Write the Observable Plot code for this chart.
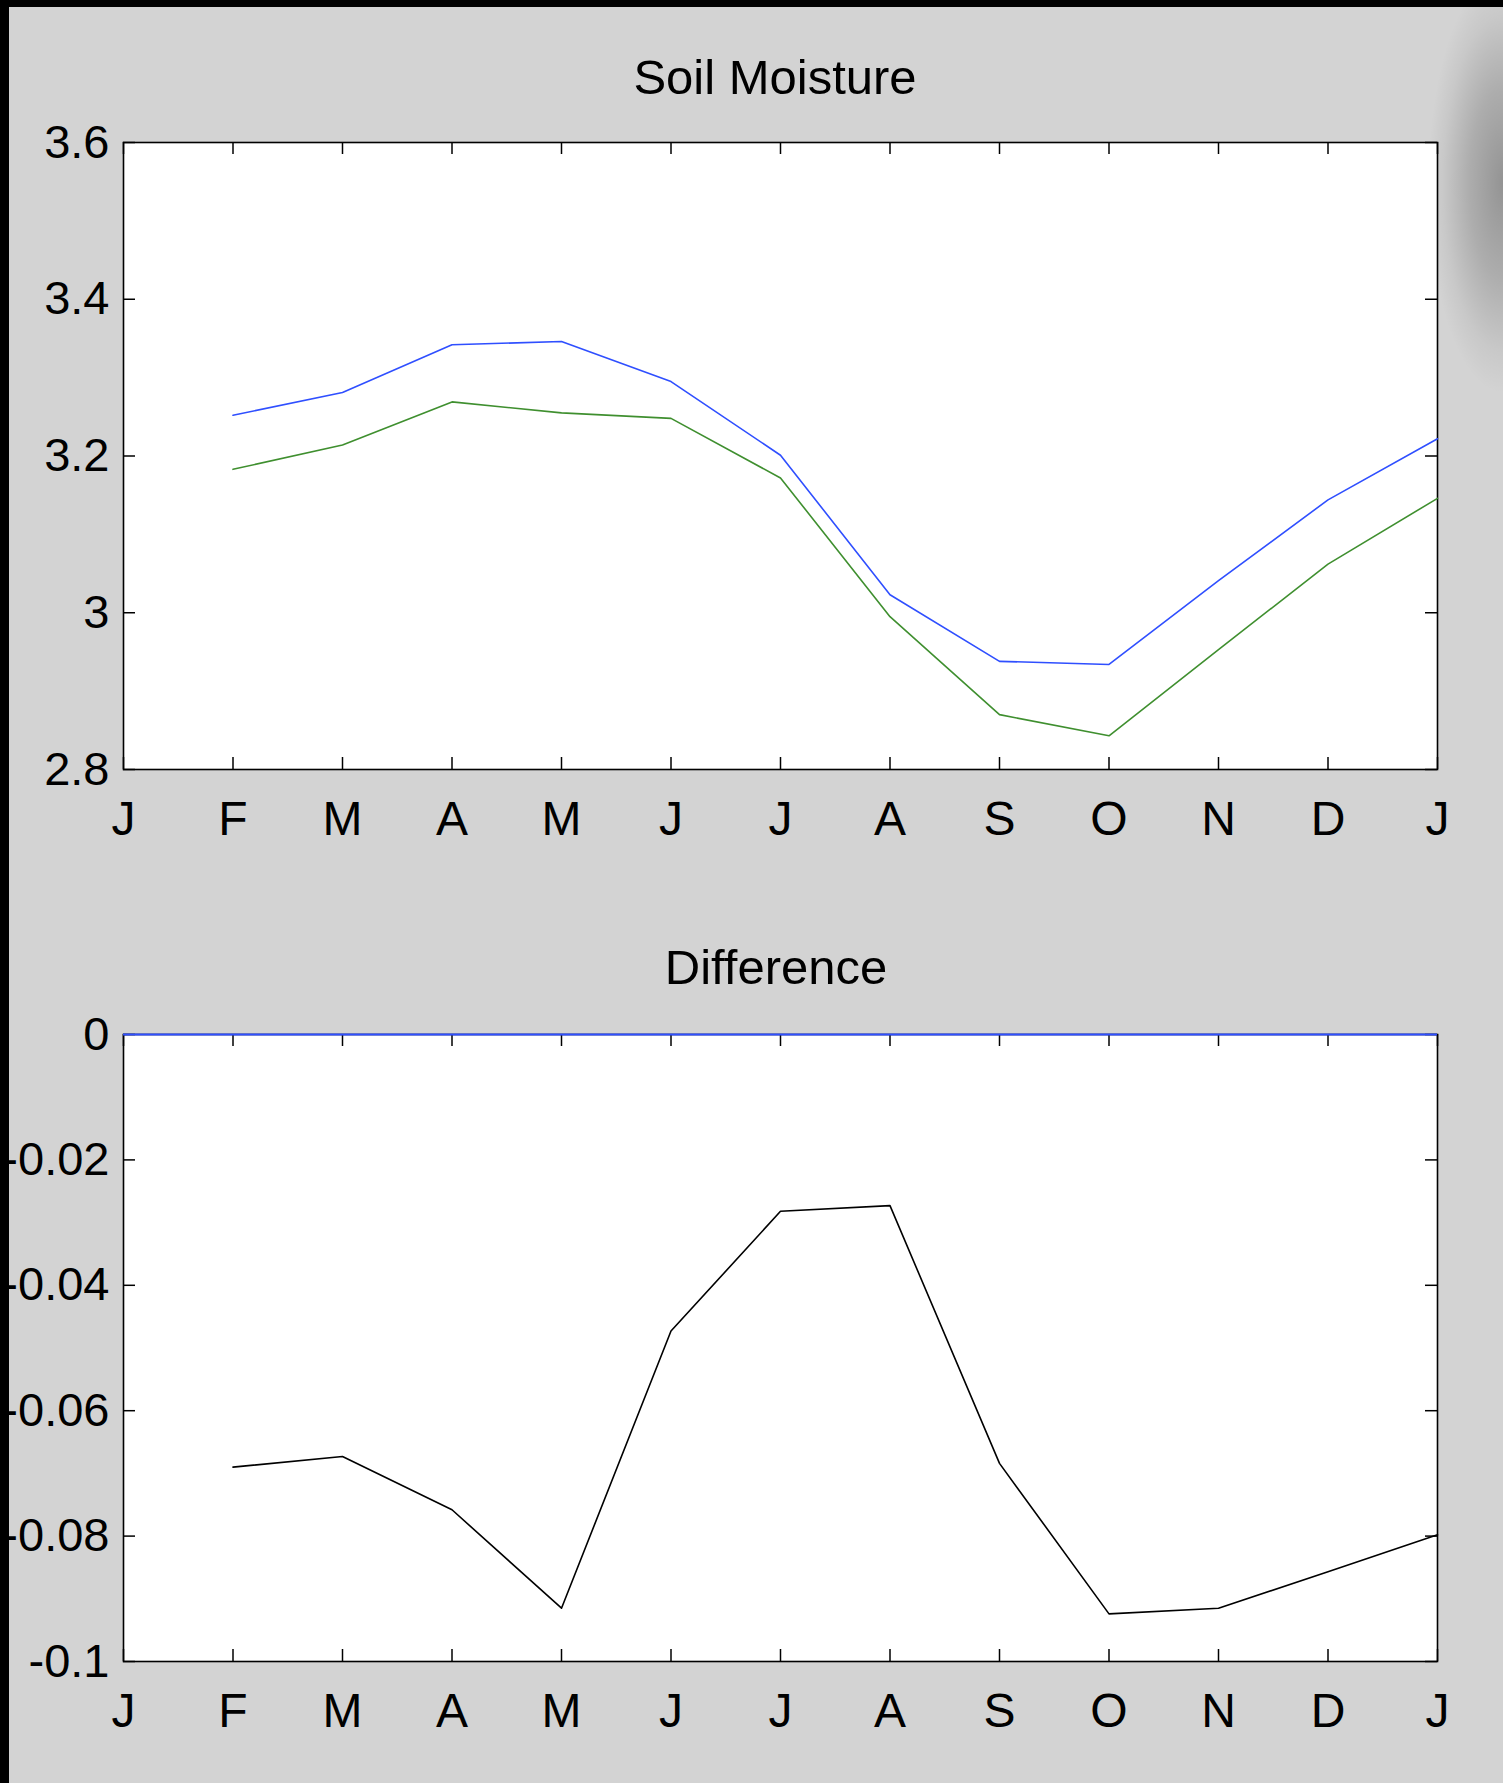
<!DOCTYPE html>
<html>
<head>
<meta charset="utf-8">
<script src="https://cdn.jsdelivr.net/npm/d3@7"></script>
<script src="https://cdn.jsdelivr.net/npm/@observablehq/plot@0.6"></script>
<style>
  html, body { margin: 0; padding: 0; }
  body {
    width: 1503px; height: 1783px; overflow: hidden; position: relative;
    background: #d3d3d3;
    font-family: "Liberation Sans", Arial, sans-serif;
  }
  .border-top { position: absolute; left: 0; top: 0; width: 1503px; height: 7px; background: #000; z-index: 5; }
  .border-left { position: absolute; left: 0; top: 0; width: 9px; height: 1783px; background: #000; z-index: 5; }
  .shadow {
    position: absolute; left: 1430px; top: 7px; width: 73px; height: 420px; z-index: 0;
    background: radial-gradient(ellipse 75px 210px at 100% 42%, rgba(0,0,0,0.30) 0%, rgba(0,0,0,0.18) 45%, rgba(0,0,0,0.05) 80%, rgba(0,0,0,0) 100%);
  }
  .title {
    position: absolute; transform: translateX(-50%); white-space: nowrap;
    font-size: 49px; line-height: 1; color: #000; z-index: 2;
  }
  .chart { position: absolute; left: 0; z-index: 1; }
</style>
</head>
<body>
<div class="border-top"></div>
<div class="border-left"></div>
<div class="shadow"></div>
<div class="title" style="left:775px; top:53px;">Soil Moisture</div>
<div class="title" style="left:776px; top:943px;">Difference</div>
<div id="top" class="chart" style="top:100px;"></div>
<div id="bottom" class="chart" style="top:992px;"></div>
<script>
// ---- data ----
const monthLabels = ["J","F","M","A","M","J","J","A","S","O","N","D","J"];
const monthTicks = [0,1,2,3,4,5,6,7,8,9,10,11,12];
const monthPos = [1,2,3,4,5,6,7,8,9,10,11,12];

const blueVals  = [3.252, 3.281, 3.342, 3.346, 3.295, 3.201, 3.023, 2.938, 2.934, 3.041, 3.144, 3.222];
const greenVals = [3.183, 3.214, 3.269, 3.255, 3.248, 3.172, 2.995, 2.870, 2.843, 2.953, 3.062, 3.146];
const diffVals  = [-0.0690, -0.0673, -0.0758, -0.0915, -0.0473, -0.0282, -0.0273, -0.0684, -0.0924, -0.0915, -0.0857, -0.0798];
const zeroVals  = [0];

const topTicks = [2.8, 3.0, 3.2, 3.4, 3.6];
const topTickLabels = ["2.8", "3", "3.2", "3.4", "3.6"];
const botTicks = [0, -0.02, -0.04, -0.06, -0.08, -0.1];
const botTickLabels = ["0", "-0.02", "-0.04", "-0.06", "-0.08", "-0.1"];

// ---- layout ----
const W = 1503, ML = 123, MR = 66, MT = 42, FH = 627, MB = 80;
const FW = W - ML - MR;
const TICK = 12;
const BLUE = "#2f4fff", GREEN = "#3f8f2f";

function labelMap(vals, labels) {
  const m = new Map(vals.map((v, i) => [v, labels[i]]));
  return d => m.get(d);
}

function frameMarks(yTicks, yLabels) {
  return [
    Plot.frame({fill: "#fff", stroke: null}),
    Plot.tickX(monthTicks, {x: d => d, insetTop: FH - TICK, stroke: "#000", strokeWidth: 1.5}),
    Plot.tickX(monthTicks, {x: d => d, insetBottom: FH - TICK, stroke: "#000", strokeWidth: 1.5}),
    Plot.tickY(yTicks, {y: d => d, insetRight: FW - TICK, stroke: "#000", strokeWidth: 1.5}),
    Plot.tickY(yTicks, {y: d => d, insetLeft: FW - TICK, stroke: "#000", strokeWidth: 1.5}),
    Plot.axisX(monthTicks, {anchor: "bottom", tickSize: 0, tickPadding: 31, fontSize: 48,
      tickFormat: d => monthLabels[d], label: null}),
    Plot.axisY(yTicks, {anchor: "left", tickSize: 0, tickPadding: 14, fontSize: 47,
      tickFormat: labelMap(yTicks, yLabels), label: null}),
    Plot.frame({stroke: "#000", strokeWidth: 1.6})
  ];
}

const common = {
  width: W, height: MT + FH + MB,
  marginLeft: ML, marginRight: MR, marginTop: MT, marginBottom: MB,
  style: {background: "transparent", fontFamily: "'Liberation Sans', Arial, sans-serif",
          fontSize: "47px", color: "#000", overflow: "visible"},
  x: {domain: [0, 12]}
};

const topData = monthPos.map((m, i) => ({m, blue: blueVals[i], green: greenVals[i]}));
const topPlot = Plot.plot({
  ...common,
  y: {domain: [2.8, 3.6]},
  marks: [
    ...frameMarks(topTicks, topTickLabels),
    Plot.line(topData, {x: "m", y: "blue", stroke: BLUE, strokeWidth: 1.6}),
    Plot.line(topData, {x: "m", y: "green", stroke: GREEN, strokeWidth: 1.6})
  ]
});
document.getElementById("top").appendChild(topPlot);

const botData = monthPos.map((m, i) => ({m, diff: diffVals[i]}));
const botPlot = Plot.plot({
  ...common,
  y: {domain: [-0.1, 0]},
  marks: [
    ...frameMarks(botTicks, botTickLabels),
    Plot.line(botData, {x: "m", y: "diff", stroke: "#000", strokeWidth: 1.6}),
    Plot.ruleY(zeroVals, {y: d => d, stroke: BLUE, strokeWidth: 2})
  ]
});
document.getElementById("bottom").appendChild(botPlot);
</script>
</body>
</html>
